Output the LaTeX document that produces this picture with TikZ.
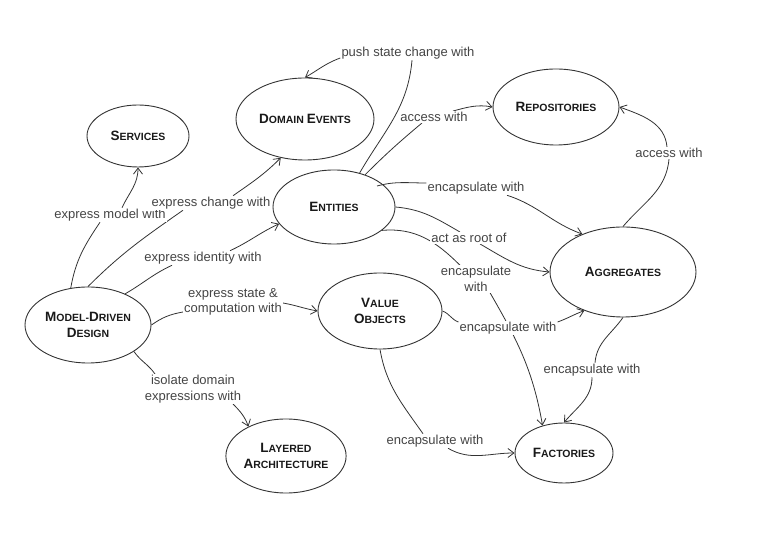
\documentclass[tikz,border=0pt]{standalone}
\usepackage{fontspec}
\setmainfont{Liberation Sans}
\usetikzlibrary{shapes.geometric,arrows.meta}
\pgfdeclarelayer{bg}
\pgfsetlayers{bg,main}
\newcommand\Sc[2]{{\fontsize{13.5}{16}\selectfont #1}{\fontsize{10.5}{16}\selectfont #2}}
\definecolor{edgecol}{gray}{0.2}
\definecolor{lblcol}{gray}{0.27}
\tikzset{
  ell/.style={ellipse, draw=edgecol, line width=0.9pt, inner sep=0pt, align=center,
    font=\bfseries\fontsize{10.5}{16}\selectfont, text=black!90},
  lbl/.style={fill=white, inner sep=1pt, align=center, text=lblcol,
    font=\fontsize{13}{15.5}\selectfont},
  conn/.style={draw=edgecol, line width=0.8pt, -{Straight Barb[length=6pt,width=9pt]}}
}
\begin{document}
\begin{tikzpicture}[x=1pt,y=1pt]
\useasboundingbox (0,0) rectangle (759,532);
% nodes
\node[ell, minimum width=102pt, minimum height=62pt] (svc) at (138,396) {\Sc{S}{ERVICES}};
\node[ell, minimum width=138pt, minimum height=82pt] (dev) at (305,413) {\Sc{D}{OMAIN} \Sc{E}{VENTS}};
\node[ell, minimum width=122pt, minimum height=74pt] (ent) at (334,325) {\Sc{E}{NTITIES}};
\node[ell, minimum width=126pt, minimum height=76pt] (rep) at (556,425) {\Sc{R}{EPOSITORIES}};
\node[ell, minimum width=146pt, minimum height=90pt] (agg) at (623,260) {\Sc{A}{GGREGATES}};
\node[ell, minimum width=126pt, minimum height=76pt] (mdd) at (88,207) {\Sc{M}{ODEL}-\Sc{D}{RIVEN}\\\Sc{D}{ESIGN}};
\node[ell, minimum width=124pt, minimum height=76pt] (vo) at (380,221) {\Sc{V}{ALUE}\\\Sc{O}{BJECTS}};
\node[ell, minimum width=120pt, minimum height=74pt] (lay) at (286,76) {\Sc{L}{AYERED}\\\Sc{A}{RCHITECTURE}};
\node[ell, minimum width=98pt, minimum height=60pt] (fac) at (564,79) {\Sc{F}{ACTORIES}};
% labels
\node[lbl] (L1) at (110,317) {express model with};
\node[lbl] (L2) at (211,329) {express change with};
\node[lbl] (L3) at (203,274) {express identity with};
\node[lbl] (L4) at (233,230) {express state \&\\computation with};
\node[lbl] (L5) at (193,143) {isolate domain\\expressions with};
\node[lbl] (L6) at (408,479) {push state change with};
\node[lbl] (L7) at (434,415) {access with};
\node[lbl] (L8) at (669,379) {access with};
\node[lbl] (L9) at (476,344) {encapsulate with};
\node[lbl] (L10) at (469,294) {act as root of};
\node[lbl] (L11) at (476,253) {encapsulate\\with};
\node[lbl] (L12) at (508,204) {encapsulate with};
\node[lbl] (L13) at (592,162) {encapsulate with};
\node[lbl] (L14) at (435,91) {encapsulate with};
% connectors
\begin{pgfonlayer}{bg}
\draw[conn] (mdd.115) to[out=80,in=236] ([xshift=-10pt]L1.south) ([xshift=12pt]L1.north) to[out=65,in=270] (svc.south);
\draw[conn] (mdd.north) to[out=45,in=215] ([xshift=-28pt]L2.south) ([xshift=22pt]L2.north) to[out=35,in=225] (dev.238);
\draw[conn] (mdd.40) to[out=30,in=205] ([xshift=-31pt]L3.south) ([xshift=27pt]L3.north) to[out=25,in=205] (ent.197);
\draw[conn] (mdd.east) to[out=35,in=190] ([yshift=-10pt]L4.west) ([yshift=-1pt]L4.east) to[out=-10,in=170] (vo.west);
\draw[conn] (mdd.-30) to[out=-55,in=125] ([xshift=-38pt]L5.north) ([xshift=40pt]L5.south) to[out=-45,in=110] (lay.142);
\draw[conn] (ent.53) to[out=60,in=-95] ([xshift=4pt]L6.south) ([yshift=-5pt]L6.west) to[out=200,in=30] (dev.north);
\draw[conn] (ent.46) to[out=45,in=220] ([xshift=-12pt]L7.south) ([xshift=19pt]L7.north) to[out=15,in=170] (rep.west);
\draw[conn] (agg.north) to[out=50,in=-95] (L8.south) ([xshift=-2pt]L8.north) to[out=95,in=-20] (rep.east);
\draw[conn] ([shift={(43pt,21pt)}]ent.center) to[out=15,in=180] ([yshift=5pt]L9.west) ([xshift=31pt]L9.south) to[out=-18,in=160] (agg.137);
\draw[conn] (ent.east) to[out=-5,in=150] ([xshift=-9pt]L10.north) ([xshift=11pt]L10.south) to[out=-30,in=175] (agg.west);
\draw[conn] (ent.-26) to[out=5,in=135] ([xshift=-16pt]L11.north) ([xshift=14pt]L11.south) to[out=-60,in=100] (fac.128);
\draw[conn] (vo.east) to[out=-20,in=160] ([yshift=6pt]L12.west) ([yshift=6pt]L12.east) to[out=20,in=200] (agg.225);
\draw[conn] (agg.south) to[out=-125,in=85] ([xshift=3pt]L13.north) (L13.south) to[out=-90,in=50] (fac.north);
\draw[conn] (vo.south) to[out=-80,in=125] ([xshift=-12pt]L14.north) ([xshift=13pt]L14.south) to[out=-30,in=180] (fac.west);
\end{pgfonlayer}
\end{tikzpicture}
\end{document}
